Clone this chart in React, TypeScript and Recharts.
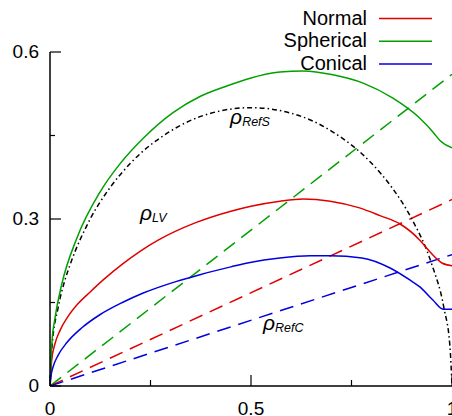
import React from 'react';
import { LineChart, Line, XAxis, YAxis, Legend, ReferenceDot } from 'recharts';

// ---- data ----
const normalX = [0, 0.004, 0.012, 0.025, 0.045, 0.07, 0.1, 0.133, 0.18, 0.224, 0.269, 0.361, 0.45, 0.5, 0.572, 0.63, 0.697, 0.77, 0.821, 0.871, 0.92, 0.945, 0.975, 1.0];
const normalY = [0, 0.045, 0.075, 0.1, 0.125, 0.148, 0.169, 0.191, 0.219, 0.242, 0.262, 0.293, 0.314, 0.323, 0.332, 0.336, 0.332, 0.32, 0.306, 0.291, 0.262, 0.241, 0.221, 0.216];

const sphericalX = [0, 0.005, 0.012, 0.029, 0.067, 0.124, 0.174, 0.232, 0.306, 0.373, 0.44, 0.498, 0.572, 0.63, 0.704, 0.779, 0.853, 0.92, 0.953, 0.97, 1.0];
const sphericalY = [0, 0.08, 0.12, 0.182, 0.266, 0.348, 0.399, 0.445, 0.491, 0.52, 0.539, 0.553, 0.564, 0.566, 0.559, 0.544, 0.517, 0.481, 0.456, 0.441, 0.428];

const conicalX = [0, 0.003, 0.008, 0.02, 0.042, 0.08, 0.124, 0.18, 0.232, 0.315, 0.373, 0.45, 0.498, 0.572, 0.647, 0.697, 0.776, 0.846, 0.896, 0.92, 0.953, 0.978, 1.0];
const conicalY = [0, 0.02, 0.035, 0.055, 0.078, 0.105, 0.128, 0.15, 0.167, 0.188, 0.2, 0.214, 0.222, 0.23, 0.234, 0.234, 0.23, 0.212, 0.19, 0.178, 0.154, 0.138, 0.138];

const refSX = [0, 0.005, 0.02, 0.037, 0.05, 0.1, 0.15, 0.2, 0.3, 0.4, 0.5, 0.6, 0.7, 0.8, 0.85, 0.9, 0.95, 0.98, 0.995, 1];
const refSY = [0, 0.07, 0.14, 0.19, 0.218, 0.3, 0.357, 0.4, 0.458, 0.49, 0.5, 0.49, 0.458, 0.4, 0.357, 0.3, 0.218, 0.14, 0.07, 0];

const dashX = [0, 1];
const greenDashY = [0, 0.56];
const redDashY = [0, 0.335];
const blueDashY = [0, 0.236];

const xTicks = [0, 0.25, 0.5, 0.75, 1];
const xMajor = [0, 0.5, 1];
const xTickLabels = ['0', '0.5', '1'];
const yTicks = [0, 0.15, 0.3, 0.45, 0.6];
const yMajor = [0, 0.3, 0.6];
const yTickLabels = ['0', '0.3', '0.6'];

const legendLabels = ['Normal', 'Spherical', 'Conical'];
const legendColors = ['#e00000', '#00a000', '#0000e0'];

const annotations = [
  { x: 0.448, y: 0.471, sub: 'RefS' },
  { x: 0.224, y: 0.298, sub: 'LV' },
  { x: 0.53, y: 0.1, sub: 'RefC' },
];

const zip = (xs: number[], ys: number[]) => xs.map((x, i) => ({ x, y: ys[i] }));

const FONT = '"Liberation Sans", Arial, sans-serif';

const XTick = (props: any) => {
  const { x, y, payload } = props;
  const idx = xMajor.indexOf(payload.value);
  const major = idx >= 0;
  return (
    <g>
      <line x1={x} y1={y} x2={x} y2={y - (major ? 11 : 6)} stroke="#000" strokeWidth={1.2} />
      {major && (
        <text x={x} y={y + 29} textAnchor="middle" fontSize={19} fontFamily={FONT} fill="#000">
          {xTickLabels[idx]}
        </text>
      )}
    </g>
  );
};

const YTick = (props: any) => {
  const { x, y, payload } = props;
  const idx = yMajor.indexOf(payload.value);
  const major = idx >= 0;
  return (
    <g>
      <line x1={x} y1={y} x2={x + (major ? 11 : 5)} y2={y} stroke="#000" strokeWidth={1.2} />
      {major && (
        <text x={x - 11} y={y + 6} textAnchor="end" fontSize={19} fontFamily={FONT} fill="#000">
          {yTickLabels[idx]}
        </text>
      )}
    </g>
  );
};

const LegendContent = () => (
  <svg width={452} height={52} style={{ display: 'block', overflow: 'visible' }}>
    {legendLabels.map((l, i) => {
      const base = 24.5 + i * 22.7;
      return (
        <g key={l}>
          <text x={367} y={base} textAnchor="end" fontSize={20} fontFamily={FONT} fill="#000">
            {l}
          </text>
          <line x1={379} x2={432} y1={base - 6} y2={base - 6} stroke={legendColors[i]} strokeWidth={1.5} />
        </g>
      );
    })}
  </svg>
);

const makeLabel = (sub: string) => (props: any) => {
  const { cx, cy } = props;
  return (
    <text x={cx} y={cy} fontFamily={FONT} fill="#000" fontStyle="italic">
      <tspan fontSize={21}>ρ</tspan>
      <tspan fontSize={12.5} dy={2}>{sub}</tspan>
    </text>
  );
};

export default function App() {
  return (
    <div style={{ position: 'absolute', left: 0, top: 0, width: 452, height: 416, overflow: 'hidden', background: '#fff' }}>
      <LineChart width={452} height={416} margin={{ top: 0, right: 0, bottom: 0, left: 0 }}>
        <XAxis
          dataKey="x"
          type="number"
          domain={[0, 1]}
          ticks={xTicks}
          height={30}
          tickSize={0}
          tickMargin={0}
          tickLine={false}
          axisLine={{ stroke: '#000', strokeWidth: 1.5 }}
          tick={<XTick />}
          interval={0}
          allowDataOverflow
        />
        <YAxis
          type="number"
          domain={[0, 0.6]}
          ticks={yTicks}
          width={50}
          tickSize={0}
          tickMargin={0}
          tickLine={false}
          axisLine={{ stroke: '#000', strokeWidth: 1.5 }}
          tick={<YTick />}
          interval={0}
          allowDataOverflow
        />
        <Legend verticalAlign="top" align="left" wrapperStyle={{ left: 0, top: 0, width: 452, height: 52 }} content={<LegendContent />} />
        <Line data={zip(dashX, greenDashY)} dataKey="y" type="linear" stroke="#00a000" strokeWidth={1.5} strokeDasharray="14 8" dot={false} isAnimationActive={false} legendType="none" />
        <Line data={zip(dashX, redDashY)} dataKey="y" type="linear" stroke="#e00000" strokeWidth={1.5} strokeDasharray="14 8" dot={false} isAnimationActive={false} legendType="none" />
        <Line data={zip(dashX, blueDashY)} dataKey="y" type="linear" stroke="#0000e0" strokeWidth={1.5} strokeDasharray="14 8" dot={false} isAnimationActive={false} legendType="none" />
        <Line data={zip(refSX, refSY)} dataKey="y" type="monotone" stroke="#000" strokeWidth={1.5} strokeDasharray="5 3 1.5 3" dot={false} isAnimationActive={false} legendType="none" />
        <Line data={zip(normalX, normalY)} dataKey="y" type="monotone" stroke="#e00000" strokeWidth={1.5} dot={false} isAnimationActive={false} />
        <Line data={zip(sphericalX, sphericalY)} dataKey="y" type="monotone" stroke="#00a000" strokeWidth={1.5} dot={false} isAnimationActive={false} />
        <Line data={zip(conicalX, conicalY)} dataKey="y" type="monotone" stroke="#0000e0" strokeWidth={1.5} dot={false} isAnimationActive={false} />
        {annotations.map((a) => (
          <ReferenceDot key={a.sub} x={a.x} y={a.y} r={0} shape={makeLabel(a.sub)} />
        ))}
      </LineChart>
    </div>
  );
}
